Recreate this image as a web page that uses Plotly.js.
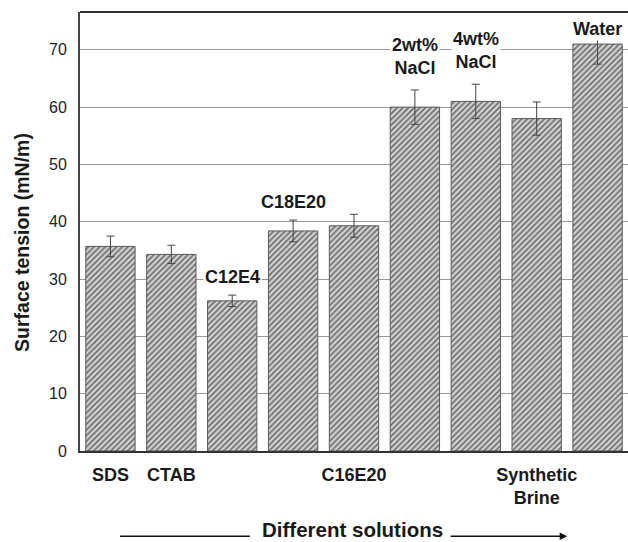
<!DOCTYPE html>
<html>
<head>
<meta charset="utf-8">
<script src="https://cdn.plot.ly/plotly-3.0.1.min.js"></script>
<style>
  html, body { margin: 0; padding: 0; background: #fff; }
  #chart { width: 628px; height: 542px; }
</style>
</head>
<body>
<div id="chart"></div>
<script>
// Surface tension of the tested solutions (mN/m) with error
const solutions = ['SDS', 'CTAB', 'C12E4', 'C18E20', 'C16E20', '2wt% NaCl', '4wt% NaCl', 'Synthetic Brine', 'Water'];
const tension = [35.7, 34.3, 26.2, 38.4, 39.3, 60.0, 61.0, 58.0, 71.0];
const tensionErr = [1.8, 1.6, 1.0, 1.9, 2.0, 3.0, 3.0, 2.9, 3.5];

// Names written under the axis vs. names written above the bars
const axisLabels = ['SDS', 'CTAB', '', '', 'C16E20', '', '', 'Synthetic<br>Brine', ''];
const barLabels = ['', '', 'C12E4', 'C18E20', '', '2wt%<br>NaCl', '4wt%<br>NaCl', '', 'Water'];

const yTicks = [0, 10, 20, 30, 40, 50, 60, 70];
const yTitle = 'Surface tension (mN/m)';
const xTitle = 'Different solutions';

const labelFont = { family: '"Liberation Sans", Arial, sans-serif', size: 18, color: '#1a1a1a', weight: 'bold' };

const trace = {
  type: 'bar',
  x: solutions,
  y: tension,
  error_y: { type: 'data', array: tensionErr, visible: true, color: '#444', thickness: 1, width: 4 },
  marker: {
    color: '#c8c8c8',
    line: { color: '#5a5a5a', width: 1 },
    pattern: { shape: '/', fgcolor: '#6a6a6a', bgcolor: '#d2d2d2', size: 4, solidity: 0.4 }
  },
  hoverinfo: 'skip'
};

// Labels above bars sit just over the error whisker (Water sits on the bar)
const annotations = [];
solutions.forEach((s, i) => {
  if (!barLabels[i]) return;
  const onBar = s === 'Water';
  annotations.push({
    x: s, y: onBar ? tension[i] : tension[i] + tensionErr[i],
    xref: 'x', yref: 'y', yanchor: 'bottom',
    yshift: onBar ? 3 : (barLabels[i].includes('<br>') ? 10 : 6),
    text: barLabels[i], showarrow: false,
    font: labelFont, bgcolor: '#ffffff', borderpad: 1
  });
});

// Vertical axis title, set a little below the plot's mid-height
annotations.push({
  x: -0.106, y: 0.476, xref: 'paper', yref: 'paper',
  xanchor: 'center', yanchor: 'middle', textangle: -90,
  text: yTitle, showarrow: false,
  font: Object.assign({}, labelFont, { size: 19.5 })
});

// Horizontal caption with its leading rule and trailing arrow
annotations.push({
  x: 0.666, y: -0.178, xref: 'paper', yref: 'paper',
  xanchor: 'right', yanchor: 'middle',
  text: xTitle, showarrow: false,
  font: Object.assign({}, labelFont, { size: 20.5 })
});
annotations.push({
  x: 0.889, y: -0.194, xref: 'paper', yref: 'paper',
  ax: -118, ay: 0, text: '', showarrow: true,
  arrowhead: 2, arrowsize: 1, arrowwidth: 1.5, arrowcolor: '#111'
});

const layout = {
  width: 628, height: 542,
  margin: { l: 80, r: 0, t: 12, b: 91 },
  paper_bgcolor: '#fff', plot_bgcolor: '#fff',
  showlegend: false,
  bargap: 0.19,
  font: { family: '"Liberation Sans", Arial, sans-serif', color: '#222' },
  xaxis: {
    type: 'category',
    range: [-0.5, 8.5],
    tickvals: solutions,
    ticktext: axisLabels,
    tickfont: labelFont,
    ticks: '', ticklabelstandoff: 6,
    showline: true, linecolor: '#333', linewidth: 2,
    mirror: false, showgrid: false, fixedrange: true
  },
  yaxis: {
    range: [0, 76.6],
    tickvals: yTicks,
    tickfont: { size: 16, color: '#222' },
    ticks: '', ticklabelstandoff: 8,
    showline: true, linecolor: '#444', linewidth: 2,
    showgrid: true, gridcolor: '#999', gridwidth: 1,
    zeroline: false,
    fixedrange: true
  },
  shapes: [
    { type: 'line', xref: 'paper', yref: 'paper', x0: 0, x1: 1, y0: 1, y1: 1, line: { color: '#333', width: 2 } },
    { type: 'line', xref: 'paper', yref: 'paper', x0: 0.073, x1: 0.31, y0: -0.194, y1: -0.194, line: { color: '#111', width: 1.5 } }
  ],
  annotations: annotations
};

Plotly.newPlot('chart', [trace], layout, { displayModeBar: false, staticPlot: true });
</script>
</body>
</html>
